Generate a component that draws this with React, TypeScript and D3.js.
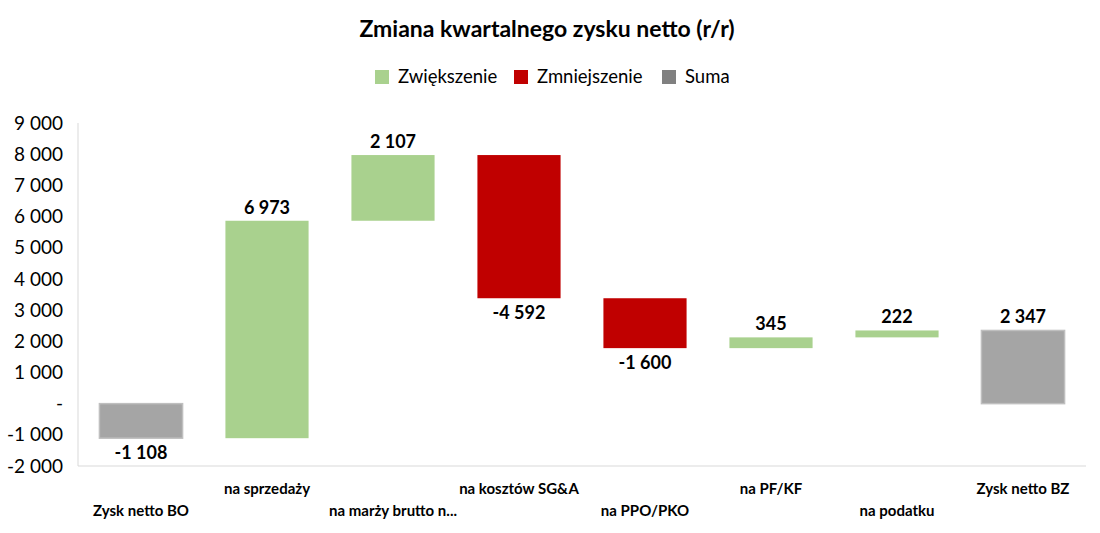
import React from "react";
import * as d3 from "d3";

const WIDTH = 1100;
const HEIGHT = 533;
const MARGIN = { top: 123, right: 14, bottom: 67, left: 78 };
const FONT = "Lato, 'Open Sans', sans-serif";

const categories = [
  "Zysk netto BO",
  "na sprzedaży",
  "na marży brutto n...",
  "na kosztów SG&A",
  "na PPO/PKO",
  "na PF/KF",
  "na podatku",
  "Zysk netto BZ",
];
const values = [-1108, 6973, 2107, -4592, -1600, 345, 222, 2347];
const isTotal = [true, false, false, false, false, false, false, true];
const yTicks = [-2000, -1000, 0, 1000, 2000, 3000, 4000, 5000, 6000, 7000, 8000, 9000];
const legendItems = ["Zwiększenie", "Zmniejszenie", "Suma"];

const COLORS = { up: "#A9D18E", down: "#C00000", total: "#A5A5A5", totalLegend: "#808080" };

const locale = d3.formatLocale({ decimal: ",", thousands: " ", grouping: [3], currency: ["", ""], minus: "-" });
const fmt = locale.format(",.0f");
const tickFmt = (v: number) => (v === 0 ? "-" : fmt(v));

export default function App() {
  const boundsWidth = WIDTH - MARGIN.left - MARGIN.right;
  const boundsHeight = HEIGHT - MARGIN.top - MARGIN.bottom;

  const xScale = d3.scaleBand<string>()
    .domain(categories)
    .range([0, boundsWidth])
    .paddingInner(0.34)
    .paddingOuter(0.17);

  const yScale = d3.scaleLinear().domain([-2000, 9000]).range([boundsHeight, 0]);

  // running totals for the waterfall
  let running = 0;
  const bars = categories.map((c, i) => {
    const v = values[i];
    let start: number, end: number;
    if (isTotal[i]) {
      start = 0;
      end = v;
      running = v;
    } else {
      start = running;
      end = running + v;
      running = end;
    }
    const kind = isTotal[i] ? "total" : v >= 0 ? "up" : "down";
    return { c, v, start, end, kind };
  });

  return (
    <svg width={WIDTH} height={HEIGHT} style={{ position: "absolute", left: 0, top: 0, background: "#fff" }}>
      <text x={547} y={37} textAnchor="middle" fontFamily={FONT} fontWeight={700} fontSize={23} fill="#000">
        Zmiana kwartalnego zysku netto (r/r)
      </text>

      {/* legend */}
      {legendItems.map((name, i) => {
        const xs = [375, 514, 662];
        const fill = [COLORS.up, COLORS.down, COLORS.totalLegend][i];
        return (
          <g key={name} transform={`translate(${xs[i]},70)`}>
            <rect width={14} height={14} fill={fill} />
            <text x={23} y={13} fontFamily={FONT} fontSize={18.5} fill="#000">{name}</text>
          </g>
        );
      })}

      <g transform={`translate(${MARGIN.left},${MARGIN.top})`}>
        {/* axes lines */}
        <line x1={0} x2={0} y1={0} y2={boundsHeight} stroke="#D9D9D9" strokeWidth={1} />
        <line x1={0} x2={boundsWidth} y1={boundsHeight} y2={boundsHeight} stroke="#D9D9D9" strokeWidth={1} />

        {yTicks.map((t) => (
          <text key={t} x={-15} y={yScale(t)} dy="0.35em" textAnchor="end" fontFamily={FONT} fontSize={19} fill="#000">
            {tickFmt(t)}
          </text>
        ))}

        {bars.map((b, i) => {
          const x = xScale(b.c) ?? 0;
          const w = xScale.bandwidth();
          const top = yScale(Math.max(b.start, b.end));
          const bottom = yScale(Math.min(b.start, b.end));
          const fill = b.kind === "up" ? COLORS.up : b.kind === "down" ? COLORS.down : COLORS.total;
          const above = b.v >= 0;
          return (
            <g key={b.c}>
              <rect
                x={x}
                y={top}
                width={w}
                height={Math.max(bottom - top, 1)}
                fill={fill}
                stroke={b.kind === "total" ? "#BFBFBF" : "none"}
                strokeWidth={b.kind === "total" ? 1.5 : 0}
              />
              <text
                x={x + w / 2}
                y={above ? top - 7 : bottom + 21}
                textAnchor="middle"
                fontFamily={FONT}
                fontWeight={700}
                fontSize={18}
                fill="#000"
              >
                {fmt(b.v)}
              </text>
              <text
                x={x + w / 2}
                y={boundsHeight + (i % 2 === 1 ? 28 : 50)}
                textAnchor="middle"
                fontFamily={FONT}
                fontWeight={700}
                fontSize={15}
                fill="#000"
              >
                {b.c}
              </text>
            </g>
          );
        })}
      </g>
    </svg>
  );
}
